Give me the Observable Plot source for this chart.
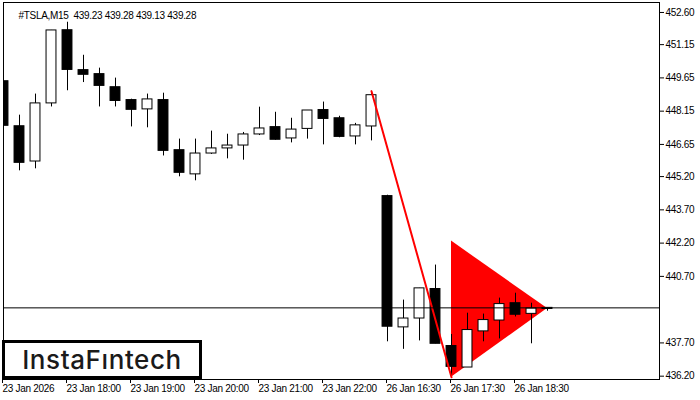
<!DOCTYPE html>
<html>
<head>
<meta charset="utf-8">
<script src="https://cdn.jsdelivr.net/npm/d3@7"></script>
<script src="https://cdn.jsdelivr.net/npm/@observablehq/plot@0.6"></script>
<style>
  html, body { margin: 0; padding: 0; background: #fff; }
  #wrap { position: relative; width: 700px; height: 400px; overflow: hidden; }
  #wrap svg text { white-space: pre; }
  #logo {
    position: absolute; left: 2px; top: 340px; width: 200px; height: 39px;
    box-sizing: border-box; border: 3px solid #000; background: #fff;
    display: flex; align-items: center; justify-content: center;
    font-family: Inter, "Noto Sans", sans-serif; font-weight: 500; font-size: 26px;
    color: #1a1a1a; letter-spacing: 0.6px;
  }
</style>
</head>
<body>
<div id="wrap"><div id="logo">InstaFıntech</div></div>
<script>
// ---- data ----
const symbol = "#TSLA,M15";
const opens  = [449.50, 447.47, 445.88, 448.50, 451.80, 450.00, 449.82, 449.23, 448.65, 448.23, 448.65, 446.39, 445.30, 446.24, 446.47, 446.60, 447.10, 447.43, 446.92, 447.35, 448.20, 447.83, 447.01, 447.46, 444.32, 438.40, 438.80, 440.13, 437.56, 436.59, 438.22, 438.71, 439.49, 439.01, 439.23];
const highs  = [450.95, 447.97, 448.92, 451.79, 452.16, 450.67, 450.09, 449.64, 448.69, 448.92, 448.96, 446.89, 446.89, 447.25, 447.11, 447.19, 448.33, 448.10, 447.83, 448.18, 448.56, 447.92, 447.60, 449.05, 444.36, 439.63, 440.16, 441.21, 438.08, 439.04, 439.00, 439.72, 439.94, 439.49, 439.28];
const lows   = [446.81, 445.46, 445.55, 448.34, 449.07, 449.44, 448.34, 448.34, 447.44, 447.40, 446.13, 445.19, 445.01, 446.20, 446.00, 445.94, 447.05, 446.84, 446.72, 446.89, 446.63, 446.95, 446.63, 446.81, 437.75, 437.41, 437.79, 437.66, 436.15, 436.59, 437.75, 437.88, 438.87, 437.66, 439.13];
const closes = [447.49, 445.82, 448.50, 451.79, 450.01, 449.79, 449.29, 448.61, 448.21, 448.68, 446.36, 445.37, 446.24, 446.47, 446.60, 447.10, 447.37, 446.86, 447.32, 448.18, 447.80, 446.99, 447.51, 448.87, 438.43, 438.80, 440.16, 437.66, 436.62, 438.28, 438.73, 439.45, 438.97, 439.25, 439.28];

const xTickIdx = [0, 4, 8, 12, 16, 20, 24, 28, 32];
const xTickLabels = ["23 Jan 2026", "23 Jan 18:00", "23 Jan 19:00", "23 Jan 20:00", "23 Jan 21:00", "23 Jan 22:00", "26 Jan 16:30", "26 Jan 17:30", "26 Jan 18:30"];
const yTicks = [452.60, 451.15, 449.65, 448.15, 446.65, 445.20, 443.70, 442.20, 440.70, 437.70, 436.20];

// pattern: pole line and pennant triangle
const poleIdx   = [23, 28];
const polePrice = [449.05, 436.15];
const pennantIdx  = [28, 34];
const pennantHigh = [442.29, 439.25];
const pennantLow  = [436.15, 439.25];

// ---- build tables ----
const candles = opens.map((o, i) => ({i, o, h: highs[i], l: lows[i], c: closes[i]}));
const bull = candles.filter(d => d.c >= d.o);
const bear = candles.filter(d => d.c < d.o);
const pole = poleIdx.map((i, k) => ({i, p: polePrice[k]}));
const pennant = pennantIdx.map((i, k) => ({i, hi: pennantHigh[k], lo: pennantLow[k]}));
const last = candles[candles.length - 1];
const title = `${symbol}  ${last.o.toFixed(2)} ${last.h.toFixed(2)} ${last.l.toFixed(2)} ${last.c.toFixed(2)}`;
const hw = 0.31;

const chart = Plot.plot({
  width: 700,
  height: 400,
  marginLeft: 3,
  marginRight: 41,
  marginTop: 2,
  marginBottom: 21,
  style: {fontFamily: "'Liberation Sans', Arial, sans-serif", fontSize: "10px", letterSpacing: "-0.3px", color: "#000", background: "#fff"},
  x: {type: "linear", domain: [0, 41]},
  y: {type: "linear", domain: [436.05, 453.05]},
  marks: [
    Plot.areaY(pennant, {x: "i", y1: "lo", y2: "hi", fill: "#ff0000", clip: true}),
    Plot.ruleX(candles, {x: "i", y1: "l", y2: "h", stroke: "#000", strokeWidth: 1, clip: true}),
    Plot.rect(bull, {x1: d => d.i - hw, x2: d => d.i + hw, y1: "o", y2: "c", fill: "#fff", stroke: "#000", strokeWidth: 1, clip: true}),
    Plot.rect(bear, {x1: d => d.i - hw, x2: d => d.i + hw, y1: "o", y2: "c", fill: "#000", stroke: "#000", strokeWidth: 1, clip: true}),
    Plot.line(pole, {x: "i", y: "p", stroke: "#ff0000", strokeWidth: 2, clip: true}),
    Plot.ruleY([last.c], {stroke: "#000", strokeWidth: 1}),
    Plot.frame({stroke: "#000"}),
    Plot.axisY({anchor: "right", ticks: yTicks, tickFormat: d => d.toFixed(2), tickSize: 4, tickPadding: 2, label: null}),
    Plot.axisX({anchor: "bottom", ticks: xTickIdx, tickFormat: d => xTickLabels[xTickIdx.indexOf(d)], tickSize: 4, tickPadding: 1, textAnchor: "start", dx: -1, label: null}),
    Plot.text([title], {frameAnchor: "top-left", dx: 15, dy: 9, textAnchor: "start", fill: "#000"}),
    Plot.text([last.c], {y: d => d, frameAnchor: "right", dx: 5, textAnchor: "start", fill: "#fff", text: d => d.toFixed(2), ariaLabel: "bid-label"})
  ]
});

const wrap = document.getElementById("wrap");
wrap.insertBefore(chart, wrap.firstChild);

// black box behind the current price label on the price axis
const bidText = chart.querySelector('g[aria-label="bid-label"] text');
if (bidText) {
  const bb = bidText.getBBox();
  const r = document.createElementNS("http://www.w3.org/2000/svg", "rect");
  r.setAttribute("x", bb.x - 2);
  r.setAttribute("y", bb.y);
  r.setAttribute("width", bb.width + 4);
  r.setAttribute("height", bb.height);
  r.setAttribute("fill", "#000");
  bidText.parentNode.insertBefore(r, bidText);
}
</script>
</body>
</html>
